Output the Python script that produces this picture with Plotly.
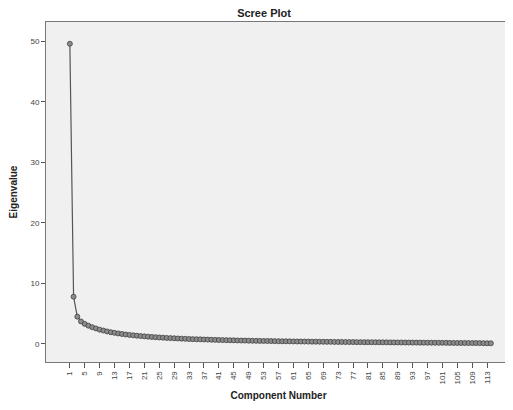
import plotly.graph_objects as go

components = list(range(1, 115))
eigenvalues = [
    49.6, 7.8, 4.5, 3.7, 3.3, 3.0, 2.75, 2.55, 2.35, 2.2,
    2.05, 1.92, 1.82, 1.72, 1.63, 1.55, 1.48, 1.41, 1.35, 1.29,
    1.24, 1.19, 1.14, 1.10, 1.06, 1.02, 0.98, 0.95, 0.92, 0.89,
    0.86, 0.83, 0.80, 0.78, 0.76, 0.74, 0.72, 0.70, 0.68, 0.66,
    0.64, 0.62, 0.61, 0.59, 0.58, 0.56, 0.55, 0.54, 0.52, 0.51,
    0.50, 0.49, 0.48, 0.47, 0.46, 0.45, 0.44, 0.43, 0.42, 0.41,
    0.40, 0.39, 0.385, 0.38, 0.37, 0.36, 0.355, 0.35, 0.34, 0.335,
    0.33, 0.32, 0.315, 0.31, 0.30, 0.295, 0.29, 0.285, 0.28, 0.275,
    0.27, 0.265, 0.26, 0.255, 0.25, 0.245, 0.24, 0.235, 0.23, 0.225,
    0.22, 0.215, 0.21, 0.205, 0.20, 0.195, 0.19, 0.185, 0.18, 0.175,
    0.17, 0.165, 0.16, 0.155, 0.15, 0.145, 0.14, 0.135, 0.13, 0.125,
    0.12, 0.11, 0.10, 0.09,
]
x_tick_vals = list(range(1, 115, 4))
x_tick_text = [str(v) for v in x_tick_vals]
y_tick_vals = [0, 10, 20, 30, 40, 50]

FONT = "Liberation Sans, Arial, sans-serif"

fig = go.Figure(
    go.Scatter(
        x=components,
        y=eigenvalues,
        mode="lines+markers",
        line=dict(color="#555555", width=1.2),
        marker=dict(symbol="circle", size=5, color="#8c8c8c",
                    line=dict(color="#404040", width=0.8)),
        hoverinfo="x+y",
        showlegend=False,
    )
)

# page body has an 8px default margin, so the figure is sized to fit 513x410
fig.update_layout(
    width=505,
    height=402,
    margin=dict(l=38, r=2, t=14, b=48),
    paper_bgcolor="white",
    plot_bgcolor="#f0f0f0",
    font=dict(family=FONT, color="#333333"),
    title=dict(text="<b>Scree Plot</b>", x=0.507, xanchor="center",
               y=0.988, yanchor="middle",
               font=dict(family=FONT, size=11, color="#222222")),
    xaxis=dict(
        range=[-5.4, 119.4],
        tickmode="array",
        tickvals=x_tick_vals,
        ticktext=x_tick_text,
        tickangle=-90,
        tickfont=dict(size=8, color="#444444"),
        ticks="outside",
        ticklen=5,
        tickcolor="#555555",
        showgrid=False,
        zeroline=False,
        showline=True,
        linecolor="#777777",
        linewidth=1,
        mirror=True,
        title=dict(text="<b>Component Number</b>",
                   font=dict(family=FONT, size=10, color="#222222"),
                   standoff=8),
    ),
    yaxis=dict(
        range=[-3.0, 53.2],
        tickmode="array",
        tickvals=y_tick_vals,
        tickfont=dict(size=8, color="#444444"),
        ticks="outside",
        ticklen=4,
        tickcolor="#555555",
        showgrid=False,
        zeroline=False,
        showline=True,
        linecolor="#777777",
        linewidth=1,
        mirror=True,
        title=dict(text="<b>Eigenvalue</b>",
                   font=dict(family=FONT, size=10, color="#222222"),
                   standoff=10),
    ),
)

fig.write_html("out.html")
